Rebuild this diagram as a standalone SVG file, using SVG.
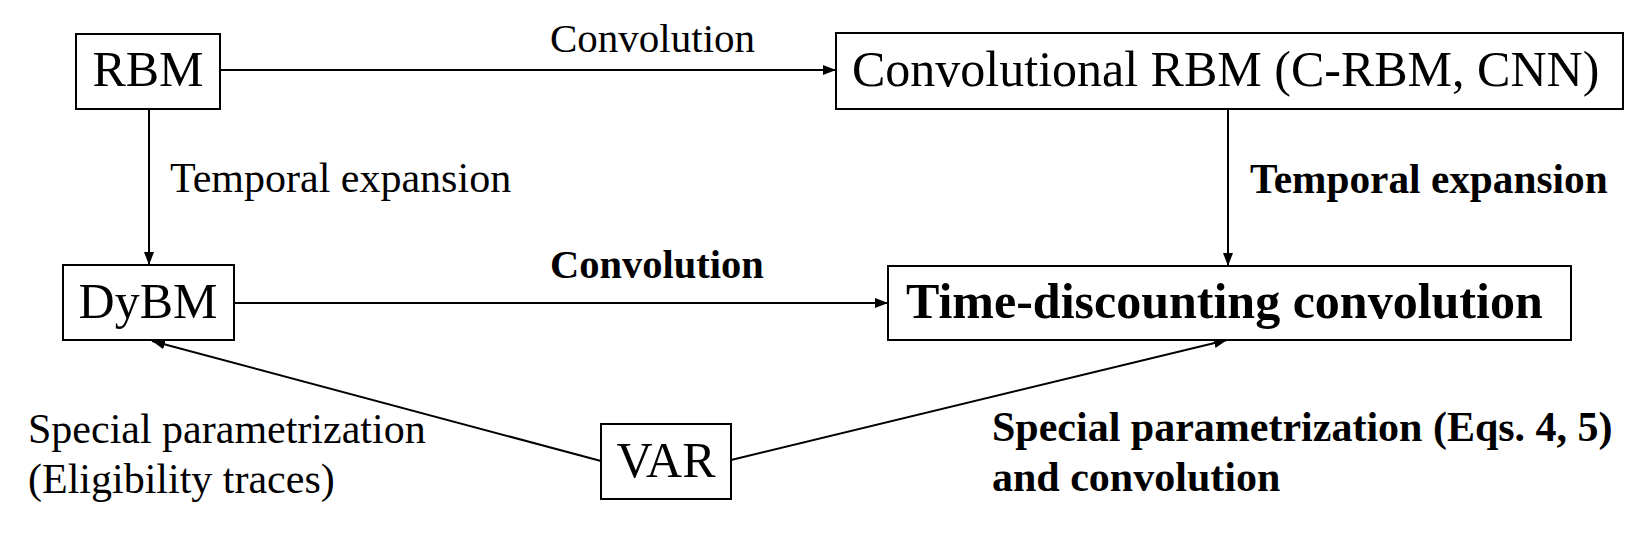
<svg xmlns="http://www.w3.org/2000/svg" width="1638" height="534" viewBox="0 0 1638 534">
<style>
.box{fill:#fff;stroke:#000;stroke-width:2}
.node{font-family:"Liberation Serif","Times New Roman",serif;font-size:50px;fill:#000}
.lbl{font-family:"Liberation Serif","Times New Roman",serif;font-size:42px;fill:#000}
.b{font-weight:bold}
.edge{stroke:#000;stroke-width:2;fill:none;marker-end:url(#arr)}
</style>
<defs>
<marker id="arr" markerUnits="userSpaceOnUse" markerWidth="14" markerHeight="12" refX="13" refY="5" orient="auto">
<path d="M0,0 L13,5 L0,10 z" fill="#000"/>
</marker>
</defs>
<rect width="1638" height="534" fill="#fff"/>
<g id="connectors">
<line class="edge" x1="220" y1="70" x2="836" y2="70"/>
<line class="edge" x1="149" y1="109" x2="149" y2="265"/>
<line class="edge" x1="1228" y1="109" x2="1228" y2="266"/>
<line class="edge" x1="234" y1="303" x2="888" y2="303"/>
<line class="edge" x1="601" y1="461" x2="152" y2="341"/>
<line class="edge" x1="731" y1="460" x2="1227" y2="340"/>
</g>
<g id="labels">
<text class="lbl" x="550" y="52" style="font-size:41px">Convolution</text>
<text class="lbl" x="170" y="192">Temporal expansion</text>
<text class="lbl b" x="1250" y="193" style="font-size:41.3px">Temporal expansion</text>
<text class="lbl b" x="550" y="278" style="font-size:40.5px">Convolution</text>
<text class="lbl" x="28" y="443">Special parametrization</text>
<text class="lbl" x="28" y="493">(Eligibility traces)</text>
<text class="lbl b" x="992" y="441">Special parametrization (Eqs. 4, 5)</text>
<text class="lbl b" x="992" y="491">and convolution</text>
</g>
<g id="RBM">
<rect class="box" x="76" y="34" width="144" height="75"/>
<text class="node" x="148" y="86" text-anchor="middle">RBM</text>
</g>
<g id="ConvRBM">
<rect class="box" x="836" y="33" width="787" height="76"/>
<text class="node" x="852" y="86">Convolutional RBM (C-RBM, CNN)</text>
</g>
<g id="DyBM">
<rect class="box" x="63" y="265" width="171" height="75"/>
<text class="node" x="148" y="318" text-anchor="middle">DyBM</text>
</g>
<g id="TDC">
<rect class="box" x="888" y="266" width="683" height="74"/>
<text class="node b" x="906" y="318">Time-discounting convolution</text>
</g>
<g id="VAR">
<rect class="box" x="601" y="424" width="130" height="75"/>
<text class="node" x="666" y="477" text-anchor="middle">VAR</text>
</g>
</svg>
